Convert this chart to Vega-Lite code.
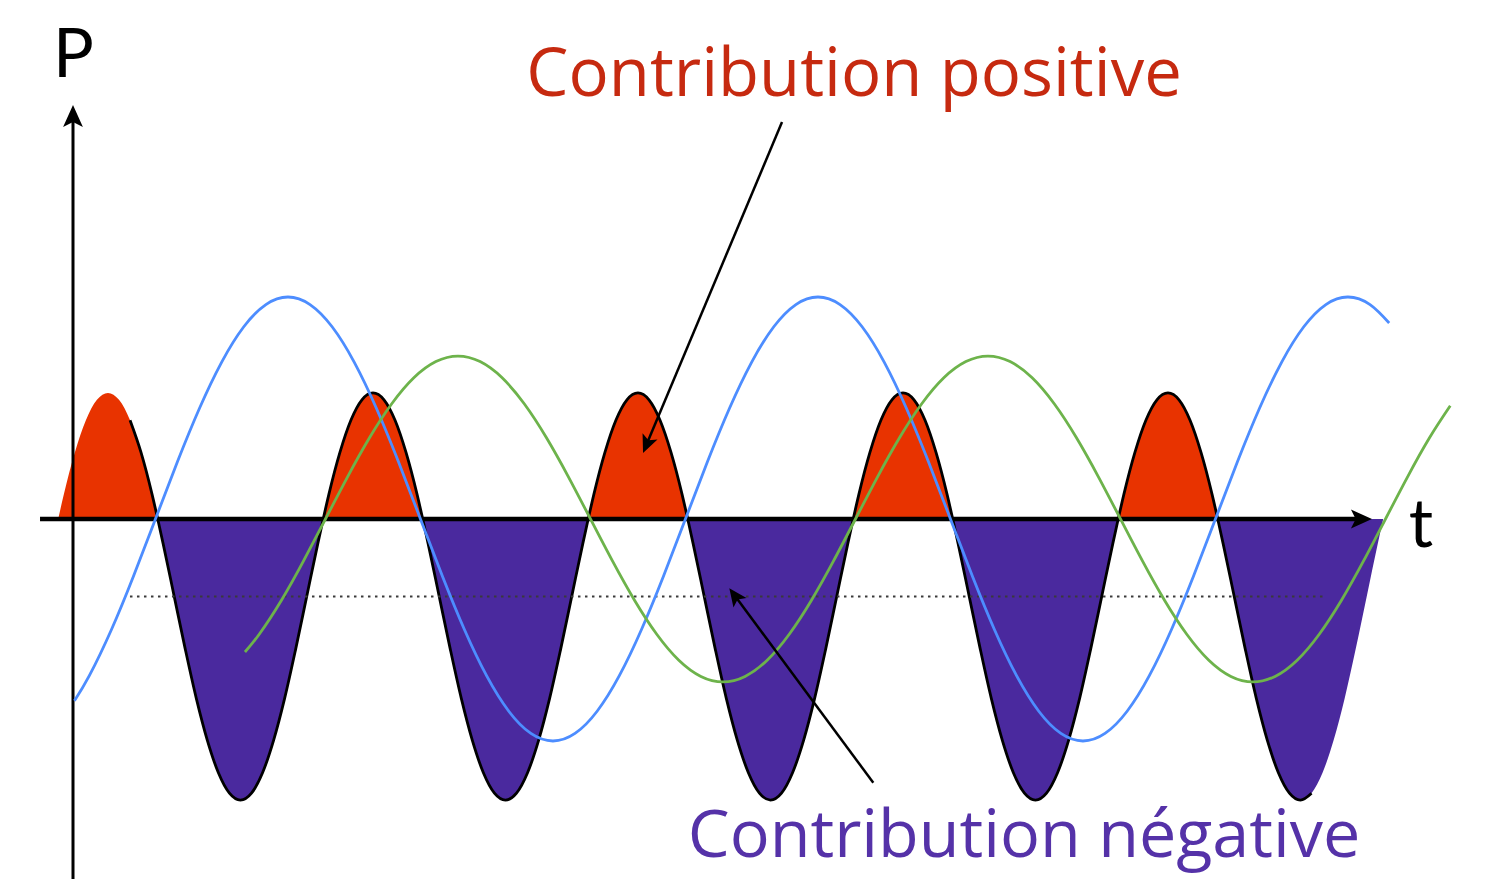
{
  "$schema": "https://vega.github.io/schema/vega-lite/v6.json",
  "width": 1512,
  "height": 879,
  "autosize": {"type": "none"},
  "padding": 0,
  "background": "white",
  "config": {"view": {"stroke": null}},
  "datasets": {
    "power": [
      {"t": -10.05, "p": 0, "lobe": "p0", "sign": "positive"},
      {"t": -6.25, "p": 0.110, "lobe": "p0", "sign": "positive"},
      {"t": 1.25, "p": 0.299, "lobe": "p0", "sign": "positive"},
      {"t": 8.75, "p": 0.445, "lobe": "p0", "sign": "positive"},
      {"t": 16.25, "p": 0.537, "lobe": "p0", "sign": "positive"},
      {"t": 23.75, "p": 0.568, "lobe": "p0", "sign": "positive"},
      {"t": 31.25, "p": 0.537, "lobe": "p0", "sign": "positive"},
      {"t": 38.75, "p": 0.445, "lobe": "p0", "sign": "positive"},
      {"t": 46.25, "p": 0.299, "lobe": "p0", "sign": "positive"},
      {"t": 53.75, "p": 0.110, "lobe": "p0", "sign": "positive"},
      {"t": 57.55, "p": 0, "lobe": "p0", "sign": "positive"},

      {"t": 57.55, "p": 0, "lobe": "n0", "sign": "negative"},
      {"t": 61.25, "p": -0.112, "lobe": "n0", "sign": "negative"},
      {"t": 68.75, "p": -0.349, "lobe": "n0", "sign": "negative"},
      {"t": 76.25, "p": -0.586, "lobe": "n0", "sign": "negative"},
      {"t": 83.75, "p": -0.808, "lobe": "n0", "sign": "negative"},
      {"t": 91.25, "p": -0.997, "lobe": "n0", "sign": "negative"},
      {"t": 98.75, "p": -1.143, "lobe": "n0", "sign": "negative"},
      {"t": 106.25, "p": -1.235, "lobe": "n0", "sign": "negative"},
      {"t": 113.75, "p": -1.266, "lobe": "n0", "sign": "negative"},
      {"t": 121.25, "p": -1.235, "lobe": "n0", "sign": "negative"},
      {"t": 128.75, "p": -1.143, "lobe": "n0", "sign": "negative"},
      {"t": 136.25, "p": -0.997, "lobe": "n0", "sign": "negative"},
      {"t": 143.75, "p": -0.808, "lobe": "n0", "sign": "negative"},
      {"t": 151.25, "p": -0.586, "lobe": "n0", "sign": "negative"},
      {"t": 158.75, "p": -0.349, "lobe": "n0", "sign": "negative"},
      {"t": 166.25, "p": -0.112, "lobe": "n0", "sign": "negative"},
      {"t": 169.95, "p": 0, "lobe": "n0", "sign": "negative"},

      {"t": 169.95, "p": 0, "lobe": "p1", "sign": "positive"},
      {"t": 173.75, "p": 0.110, "lobe": "p1", "sign": "positive"},
      {"t": 181.25, "p": 0.299, "lobe": "p1", "sign": "positive"},
      {"t": 188.75, "p": 0.445, "lobe": "p1", "sign": "positive"},
      {"t": 196.25, "p": 0.537, "lobe": "p1", "sign": "positive"},
      {"t": 203.75, "p": 0.568, "lobe": "p1", "sign": "positive"},
      {"t": 211.25, "p": 0.537, "lobe": "p1", "sign": "positive"},
      {"t": 218.75, "p": 0.445, "lobe": "p1", "sign": "positive"},
      {"t": 226.25, "p": 0.299, "lobe": "p1", "sign": "positive"},
      {"t": 233.75, "p": 0.110, "lobe": "p1", "sign": "positive"},
      {"t": 237.55, "p": 0, "lobe": "p1", "sign": "positive"},

      {"t": 237.55, "p": 0, "lobe": "n1", "sign": "negative"},
      {"t": 241.25, "p": -0.112, "lobe": "n1", "sign": "negative"},
      {"t": 248.75, "p": -0.349, "lobe": "n1", "sign": "negative"},
      {"t": 256.25, "p": -0.586, "lobe": "n1", "sign": "negative"},
      {"t": 263.75, "p": -0.808, "lobe": "n1", "sign": "negative"},
      {"t": 271.25, "p": -0.997, "lobe": "n1", "sign": "negative"},
      {"t": 278.75, "p": -1.143, "lobe": "n1", "sign": "negative"},
      {"t": 286.25, "p": -1.235, "lobe": "n1", "sign": "negative"},
      {"t": 293.75, "p": -1.266, "lobe": "n1", "sign": "negative"},
      {"t": 301.25, "p": -1.235, "lobe": "n1", "sign": "negative"},
      {"t": 308.75, "p": -1.143, "lobe": "n1", "sign": "negative"},
      {"t": 316.25, "p": -0.997, "lobe": "n1", "sign": "negative"},
      {"t": 323.75, "p": -0.808, "lobe": "n1", "sign": "negative"},
      {"t": 331.25, "p": -0.586, "lobe": "n1", "sign": "negative"},
      {"t": 338.75, "p": -0.349, "lobe": "n1", "sign": "negative"},
      {"t": 346.25, "p": -0.112, "lobe": "n1", "sign": "negative"},
      {"t": 349.95, "p": 0, "lobe": "n1", "sign": "negative"},

      {"t": 349.95, "p": 0, "lobe": "p2", "sign": "positive"},
      {"t": 353.75, "p": 0.110, "lobe": "p2", "sign": "positive"},
      {"t": 361.25, "p": 0.299, "lobe": "p2", "sign": "positive"},
      {"t": 368.75, "p": 0.445, "lobe": "p2", "sign": "positive"},
      {"t": 376.25, "p": 0.537, "lobe": "p2", "sign": "positive"},
      {"t": 383.75, "p": 0.568, "lobe": "p2", "sign": "positive"},
      {"t": 391.25, "p": 0.537, "lobe": "p2", "sign": "positive"},
      {"t": 398.75, "p": 0.445, "lobe": "p2", "sign": "positive"},
      {"t": 406.25, "p": 0.299, "lobe": "p2", "sign": "positive"},
      {"t": 413.75, "p": 0.110, "lobe": "p2", "sign": "positive"},
      {"t": 417.55, "p": 0, "lobe": "p2", "sign": "positive"},

      {"t": 417.55, "p": 0, "lobe": "n2", "sign": "negative"},
      {"t": 421.25, "p": -0.112, "lobe": "n2", "sign": "negative"},
      {"t": 428.75, "p": -0.349, "lobe": "n2", "sign": "negative"},
      {"t": 436.25, "p": -0.586, "lobe": "n2", "sign": "negative"},
      {"t": 443.75, "p": -0.808, "lobe": "n2", "sign": "negative"},
      {"t": 451.25, "p": -0.997, "lobe": "n2", "sign": "negative"},
      {"t": 458.75, "p": -1.143, "lobe": "n2", "sign": "negative"},
      {"t": 466.25, "p": -1.235, "lobe": "n2", "sign": "negative"},
      {"t": 473.75, "p": -1.266, "lobe": "n2", "sign": "negative"},
      {"t": 481.25, "p": -1.235, "lobe": "n2", "sign": "negative"},
      {"t": 488.75, "p": -1.143, "lobe": "n2", "sign": "negative"},
      {"t": 496.25, "p": -0.997, "lobe": "n2", "sign": "negative"},
      {"t": 503.75, "p": -0.808, "lobe": "n2", "sign": "negative"},
      {"t": 511.25, "p": -0.586, "lobe": "n2", "sign": "negative"},
      {"t": 518.75, "p": -0.349, "lobe": "n2", "sign": "negative"},
      {"t": 526.25, "p": -0.112, "lobe": "n2", "sign": "negative"},
      {"t": 529.95, "p": 0, "lobe": "n2", "sign": "negative"},

      {"t": 529.95, "p": 0, "lobe": "p3", "sign": "positive"},
      {"t": 533.75, "p": 0.110, "lobe": "p3", "sign": "positive"},
      {"t": 541.25, "p": 0.299, "lobe": "p3", "sign": "positive"},
      {"t": 548.75, "p": 0.445, "lobe": "p3", "sign": "positive"},
      {"t": 556.25, "p": 0.537, "lobe": "p3", "sign": "positive"},
      {"t": 563.75, "p": 0.568, "lobe": "p3", "sign": "positive"},
      {"t": 571.25, "p": 0.537, "lobe": "p3", "sign": "positive"},
      {"t": 578.75, "p": 0.445, "lobe": "p3", "sign": "positive"},
      {"t": 586.25, "p": 0.299, "lobe": "p3", "sign": "positive"},
      {"t": 593.75, "p": 0.110, "lobe": "p3", "sign": "positive"},
      {"t": 597.55, "p": 0, "lobe": "p3", "sign": "positive"},

      {"t": 597.55, "p": 0, "lobe": "n3", "sign": "negative"},
      {"t": 601.25, "p": -0.112, "lobe": "n3", "sign": "negative"},
      {"t": 608.75, "p": -0.349, "lobe": "n3", "sign": "negative"},
      {"t": 616.25, "p": -0.586, "lobe": "n3", "sign": "negative"},
      {"t": 623.75, "p": -0.808, "lobe": "n3", "sign": "negative"},
      {"t": 631.25, "p": -0.997, "lobe": "n3", "sign": "negative"},
      {"t": 638.75, "p": -1.143, "lobe": "n3", "sign": "negative"},
      {"t": 646.25, "p": -1.235, "lobe": "n3", "sign": "negative"},
      {"t": 653.75, "p": -1.266, "lobe": "n3", "sign": "negative"},
      {"t": 661.25, "p": -1.235, "lobe": "n3", "sign": "negative"},
      {"t": 668.75, "p": -1.143, "lobe": "n3", "sign": "negative"},
      {"t": 676.25, "p": -0.997, "lobe": "n3", "sign": "negative"},
      {"t": 683.75, "p": -0.808, "lobe": "n3", "sign": "negative"},
      {"t": 691.25, "p": -0.586, "lobe": "n3", "sign": "negative"},
      {"t": 698.75, "p": -0.349, "lobe": "n3", "sign": "negative"},
      {"t": 706.25, "p": -0.112, "lobe": "n3", "sign": "negative"},
      {"t": 709.95, "p": 0, "lobe": "n3", "sign": "negative"},

      {"t": 709.95, "p": 0, "lobe": "p4", "sign": "positive"},
      {"t": 713.75, "p": 0.110, "lobe": "p4", "sign": "positive"},
      {"t": 721.25, "p": 0.299, "lobe": "p4", "sign": "positive"},
      {"t": 728.75, "p": 0.445, "lobe": "p4", "sign": "positive"},
      {"t": 736.25, "p": 0.537, "lobe": "p4", "sign": "positive"},
      {"t": 743.75, "p": 0.568, "lobe": "p4", "sign": "positive"},
      {"t": 751.25, "p": 0.537, "lobe": "p4", "sign": "positive"},
      {"t": 758.75, "p": 0.445, "lobe": "p4", "sign": "positive"},
      {"t": 766.25, "p": 0.299, "lobe": "p4", "sign": "positive"},
      {"t": 773.75, "p": 0.110, "lobe": "p4", "sign": "positive"},
      {"t": 777.55, "p": 0, "lobe": "p4", "sign": "positive"},

      {"t": 777.55, "p": 0, "lobe": "n4", "sign": "negative"},
      {"t": 781.25, "p": -0.112, "lobe": "n4", "sign": "negative"},
      {"t": 788.75, "p": -0.349, "lobe": "n4", "sign": "negative"},
      {"t": 796.25, "p": -0.586, "lobe": "n4", "sign": "negative"},
      {"t": 803.75, "p": -0.808, "lobe": "n4", "sign": "negative"},
      {"t": 811.25, "p": -0.997, "lobe": "n4", "sign": "negative"},
      {"t": 818.75, "p": -1.143, "lobe": "n4", "sign": "negative"},
      {"t": 826.25, "p": -1.235, "lobe": "n4", "sign": "negative"},
      {"t": 833.75, "p": -1.266, "lobe": "n4", "sign": "negative"},
      {"t": 841.25, "p": -1.235, "lobe": "n4", "sign": "negative"},
      {"t": 848.75, "p": -1.143, "lobe": "n4", "sign": "negative"},
      {"t": 856.25, "p": -0.997, "lobe": "n4", "sign": "negative"},
      {"t": 863.75, "p": -0.808, "lobe": "n4", "sign": "negative"},
      {"t": 871.25, "p": -0.586, "lobe": "n4", "sign": "negative"},
      {"t": 878.75, "p": -0.349, "lobe": "n4", "sign": "negative"},
      {"t": 886.25, "p": -0.112, "lobe": "n4", "sign": "negative"},
      {"t": 889.95, "p": 0, "lobe": "n4", "sign": "negative"}
    ],
    "tension": [
      {"t": 1, "p": -0.819}, {"t": 11, "p": -0.707}, {"t": 26, "p": -0.5}, {"t": 41, "p": -0.259},
      {"t": 56, "p": 0}, {"t": 71, "p": 0.259}, {"t": 86, "p": 0.5}, {"t": 101, "p": 0.707},
      {"t": 116, "p": 0.866}, {"t": 131, "p": 0.966}, {"t": 146, "p": 1}, {"t": 161, "p": 0.966},
      {"t": 176, "p": 0.866}, {"t": 191, "p": 0.707}, {"t": 206, "p": 0.5}, {"t": 221, "p": 0.259},
      {"t": 236, "p": 0}, {"t": 251, "p": -0.259}, {"t": 266, "p": -0.5}, {"t": 281, "p": -0.707},
      {"t": 296, "p": -0.866}, {"t": 311, "p": -0.966}, {"t": 326, "p": -1}, {"t": 341, "p": -0.966},
      {"t": 356, "p": -0.866}, {"t": 371, "p": -0.707}, {"t": 386, "p": -0.5}, {"t": 401, "p": -0.259},
      {"t": 416, "p": 0}, {"t": 431, "p": 0.259}, {"t": 446, "p": 0.5}, {"t": 461, "p": 0.707},
      {"t": 476, "p": 0.866}, {"t": 491, "p": 0.966}, {"t": 506, "p": 1}, {"t": 521, "p": 0.966},
      {"t": 536, "p": 0.866}, {"t": 551, "p": 0.707}, {"t": 566, "p": 0.5}, {"t": 581, "p": 0.259},
      {"t": 596, "p": 0}, {"t": 611, "p": -0.259}, {"t": 626, "p": -0.5}, {"t": 641, "p": -0.707},
      {"t": 656, "p": -0.866}, {"t": 671, "p": -0.966}, {"t": 686, "p": -1}, {"t": 701, "p": -0.966},
      {"t": 716, "p": -0.866}, {"t": 731, "p": -0.707}, {"t": 746, "p": -0.5}, {"t": 761, "p": -0.259},
      {"t": 776, "p": 0}, {"t": 791, "p": 0.259}, {"t": 806, "p": 0.5}, {"t": 821, "p": 0.707},
      {"t": 836, "p": 0.866}, {"t": 851, "p": 0.966}, {"t": 866, "p": 1}, {"t": 881, "p": 0.966},
      {"t": 894, "p": 0.883}
    ],
    "courant": [
      {"t": 116.8, "p": -0.599}, {"t": 126.5, "p": -0.519}, {"t": 141.5, "p": -0.367}, {"t": 156.5, "p": -0.190},
      {"t": 171.5, "p": 0}, {"t": 186.5, "p": 0.190}, {"t": 201.5, "p": 0.367}, {"t": 216.5, "p": 0.519},
      {"t": 231.5, "p": 0.636}, {"t": 246.5, "p": 0.709}, {"t": 261.5, "p": 0.734}, {"t": 276.5, "p": 0.709},
      {"t": 291.5, "p": 0.636}, {"t": 306.5, "p": 0.519}, {"t": 321.5, "p": 0.367}, {"t": 336.5, "p": 0.190},
      {"t": 351.5, "p": 0}, {"t": 366.5, "p": -0.190}, {"t": 381.5, "p": -0.367}, {"t": 396.5, "p": -0.519},
      {"t": 411.5, "p": -0.636}, {"t": 426.5, "p": -0.709}, {"t": 441.5, "p": -0.734}, {"t": 456.5, "p": -0.709},
      {"t": 471.5, "p": -0.636}, {"t": 486.5, "p": -0.519}, {"t": 501.5, "p": -0.367}, {"t": 516.5, "p": -0.190},
      {"t": 531.5, "p": 0}, {"t": 546.5, "p": 0.190}, {"t": 561.5, "p": 0.367}, {"t": 576.5, "p": 0.519},
      {"t": 591.5, "p": 0.636}, {"t": 606.5, "p": 0.709}, {"t": 621.5, "p": 0.734}, {"t": 636.5, "p": 0.709},
      {"t": 651.5, "p": 0.636}, {"t": 666.5, "p": 0.519}, {"t": 681.5, "p": 0.367}, {"t": 696.5, "p": 0.190},
      {"t": 711.5, "p": 0}, {"t": 726.5, "p": -0.190}, {"t": 741.5, "p": -0.367}, {"t": 756.5, "p": -0.519},
      {"t": 771.5, "p": -0.636}, {"t": 786.5, "p": -0.709}, {"t": 801.5, "p": -0.734}, {"t": 816.5, "p": -0.709},
      {"t": 831.5, "p": -0.636}, {"t": 846.5, "p": -0.519}, {"t": 861.5, "p": -0.367}, {"t": 876.5, "p": -0.190},
      {"t": 891.5, "p": 0}, {"t": 906.5, "p": 0.190}, {"t": 921.5, "p": 0.367}, {"t": 935.5, "p": 0.510}
    ],
    "moyenne": [
      {"t": 38.7, "p": -0.349, "t2": 850.4}
    ],
    "shafts": [
      {"name": "P", "t": 0, "p": -1.6216, "t2": 0, "p2": 1.811},
      {"name": "t", "t": -22.4, "p": 0, "t2": 874.2, "p2": 0},
      {"name": "pos", "t": 481.6, "p": 1.788, "t2": 388.7, "p2": 0.322},
      {"name": "neg", "t": 543.6, "p": -1.188, "t2": 448.2, "p2": -0.3338}
    ],
    "heads": [
      {"name": "P", "t": 0, "p": 1.8649},
      {"name": "t", "t": 882.3, "p": 0},
      {"name": "pos", "t": 387.2, "p": 0.2973},
      {"name": "neg", "t": 445.8, "p": -0.3122}
    ],
    "labels": [
      {"name": "P", "t": 0.3, "p": 1.991, "text": "P"},
      {"name": "t", "t": 915.6, "p": -0.126, "text": "t"},
      {"name": "pos", "t": 530.5, "p": 1.905, "text": "Contribution positive"},
      {"name": "neg", "t": 646.0, "p": -1.5225, "text": "Contribution négative"}
    ]
  },
  "encoding": {
    "x": {"field": "t", "type": "quantitative", "scale": {"domain": [-49.585, 977.43], "nice": false, "zero": false}, "axis": null},
    "y": {"field": "p", "type": "quantitative", "scale": {"domain": [-1.62162, 2.33784], "nice": false, "zero": false}, "axis": null}
  },
  "layer": [
    {
      "data": {"name": "power"},
      "mark": {"type": "area", "interpolate": "monotone", "opacity": 1},
      "encoding": {
        "y": {"field": "p", "type": "quantitative", "stack": null, "scale": {"domain": [-1.62162, 2.33784], "nice": false, "zero": false}, "axis": null},
        "y2": {"datum": 0},
        "color": {"field": "sign", "type": "nominal", "scale": {"domain": ["positive", "negative"], "range": ["#e83300", "#4a299e"]}, "legend": null},
        "detail": {"field": "lobe"}
      }
    },
    {
      "data": {"name": "power"},
      "transform": [{"filter": "datum.t >= 38.7 && datum.t <= 841.3"}],
      "mark": {"type": "line", "interpolate": "monotone", "color": "#000000", "strokeWidth": 2.8},
      "encoding": {"detail": {"field": "lobe"}}
    },
    {
      "data": {"name": "moyenne"},
      "mark": {"type": "rule", "color": "#3a3a3a", "strokeWidth": 2, "strokeDash": [2.5, 4.5]},
      "encoding": {"x2": {"field": "t2"}}
    },
    {
      "data": {"name": "shafts"},
      "transform": [{"filter": "datum.name == 'P'"}],
      "mark": {"type": "rule", "color": "#000000", "strokeWidth": 3},
      "encoding": {"x2": {"field": "t2"}, "y2": {"field": "p2"}}
    },
    {
      "data": {"name": "shafts"},
      "transform": [{"filter": "datum.name == 't'"}],
      "mark": {"type": "rule", "color": "#000000", "strokeWidth": 4.5},
      "encoding": {"x2": {"field": "t2"}, "y2": {"field": "p2"}}
    },
    {
      "data": {"name": "heads"},
      "transform": [{"filter": "datum.name == 'P'"}],
      "mark": {"type": "point", "shape": "M0,0L0.9,2L0,1.55L-0.9,2Z", "filled": true, "color": "#000000", "opacity": 1, "size": 484, "angle": 0, "strokeWidth": 0}
    },
    {
      "data": {"name": "heads"},
      "transform": [{"filter": "datum.name == 't'"}],
      "mark": {"type": "point", "shape": "M0,0L0.9,2L0,1.55L-0.9,2Z", "filled": true, "color": "#000000", "opacity": 1, "size": 441, "angle": 90, "strokeWidth": 0}
    },
    {
      "data": {"name": "tension"},
      "mark": {"type": "line", "interpolate": "natural", "color": "#4d8dff", "strokeWidth": 2.8}
    },
    {
      "data": {"name": "courant"},
      "mark": {"type": "line", "interpolate": "natural", "color": "#6db34b", "strokeWidth": 2.8}
    },
    {
      "data": {"name": "shafts"},
      "transform": [{"filter": "datum.name == 'pos' || datum.name == 'neg'"}],
      "mark": {"type": "rule", "color": "#000000", "strokeWidth": 2.5},
      "encoding": {"x2": {"field": "t2"}, "y2": {"field": "p2"}}
    },
    {
      "data": {"name": "heads"},
      "transform": [{"filter": "datum.name == 'pos'"}],
      "mark": {"type": "point", "shape": "M0,0L0.9,2L0,1.55L-0.9,2Z", "filled": true, "color": "#000000", "opacity": 1, "size": 324, "angle": 202.8, "strokeWidth": 0}
    },
    {
      "data": {"name": "heads"},
      "transform": [{"filter": "datum.name == 'neg'"}],
      "mark": {"type": "point", "shape": "M0,0L0.9,2L0,1.55L-0.9,2Z", "filled": true, "color": "#000000", "opacity": 1, "size": 324, "angle": 323.6, "strokeWidth": 0}
    },
    {
      "data": {"name": "labels"},
      "transform": [{"filter": "datum.name == 'P' || datum.name == 't'"}],
      "mark": {"type": "text", "font": "Lato", "fontSize": 68, "color": "#000000", "align": "center", "baseline": "alphabetic"},
      "encoding": {"text": {"field": "text"}}
    },
    {
      "data": {"name": "labels"},
      "transform": [{"filter": "datum.name == 'pos'"}],
      "mark": {"type": "text", "font": "Open Sans", "fontSize": 67, "color": "#c62a10", "align": "center", "baseline": "alphabetic"},
      "encoding": {"text": {"field": "text"}}
    },
    {
      "data": {"name": "labels"},
      "transform": [{"filter": "datum.name == 'neg'"}],
      "mark": {"type": "text", "font": "Open Sans", "fontSize": 66.5, "color": "#5532a8", "align": "center", "baseline": "alphabetic"},
      "encoding": {"text": {"field": "text"}}
    }
  ]
}
